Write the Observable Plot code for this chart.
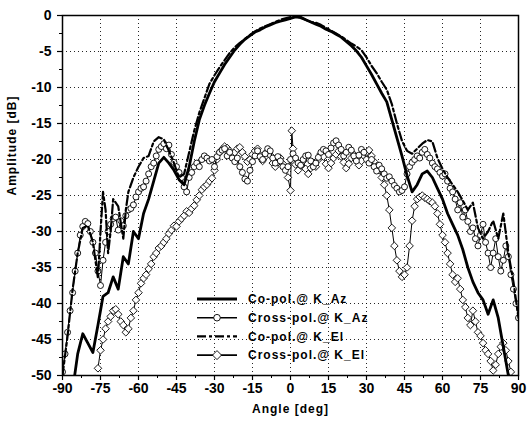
<!DOCTYPE html>
<html><head><meta charset="utf-8">
<script src="https://cdn.jsdelivr.net/npm/d3@7"></script>
<script src="https://cdn.jsdelivr.net/npm/@observablehq/plot@0.6"></script>
<style>
body{margin:0;background:#fff;}
#wrap{position:relative;width:529px;height:428px;}
</style></head><body><div id="wrap"></div>
<script>
// ---- data ----
const copolAzAngle = [-86,-84,-82,-80,-78,-76,-74,-72,-70,-68,-66,-64,-62,-60,-58,-56,-54,-52,-50,-48,-46,-44,-42,-40,-38,-36,-34,-32,-30,-28,-26,-24,-22,-20,-18,-16,-14,-12,-10,-8,-6,-4,-2,0,2,4,6,8,10,12,14,16,18,20,22,24,26,28,30,32,34,36,38,40,42,44,46,48,50,52,54,56,58,60,62,64,66,68,70,72,74,76,78,80,82,84,86,88];
const copolAzDb = [-52,-47,-44.2,-45.5,-46.8,-43,-39,-38.5,-36.3,-38,-33.5,-34.5,-30,-31,-27.5,-25.5,-23,-20.5,-19.7,-20.5,-21.5,-22.8,-23.5,-21,-17.5,-14.5,-12.5,-10.8,-9.2,-8,-6.8,-5.8,-4.8,-4,-3.3,-2.8,-2.3,-2,-1.6,-1.3,-1,-0.8,-0.6,-0.4,-0.2,-0.3,-0.6,-0.9,-1.2,-1.5,-1.9,-2.2,-2.6,-3,-3.6,-4.2,-4.9,-5.8,-7,-8.2,-9.5,-10.8,-12,-14.5,-17,-19.5,-22.2,-24.5,-23.5,-22,-21.6,-22.5,-24,-25.5,-27.5,-29,-30.5,-32.5,-35,-37,-38.5,-39.5,-41.5,-39.5,-42,-46,-50,-53];

const copolElAngle = [-90,-88,-86,-84,-82,-80,-78,-76,-75,-74,-73,-72,-71,-70,-68,-66,-65,-64,-62,-60,-58,-56,-54,-52,-50,-48,-46,-44,-42,-40,-38,-36,-34,-32,-30,-28,-26,-24,-22,-20,-18,-16,-14,-12,-10,-8,-6,-4,-2,0,2,4,6,8,10,12,14,16,18,20,22,24,26,28,30,32,34,36,38,40,42,44,46,48,50,52,54,56,58,60,62,64,66,68,70,72,74,76,78,80,82,84,86,88,90];
const copolElDb = [-50,-44.5,-38,-33,-29.5,-29.2,-31.5,-36.5,-30,-24.5,-27,-33,-30,-25.5,-26.5,-31,-27,-24.5,-22.5,-21,-19.8,-19.5,-17.5,-16.9,-17.2,-18.8,-20.5,-22.5,-22,-19,-16,-13.5,-11.5,-9.5,-8.3,-7.2,-6.2,-5.2,-4.4,-3.8,-3.3,-2.7,-2.2,-1.8,-1.5,-1.2,-0.9,-0.6,-0.4,-0.2,-0.1,-0.2,-0.6,-0.9,-1.0,-1.3,-1.7,-2.1,-2.5,-2.9,-3.4,-3.9,-4.3,-4.8,-5.8,-7,-8,-9.2,-10.3,-12.3,-15,-17.4,-18.8,-19.2,-18.5,-17.8,-17.3,-17.5,-19.8,-21.3,-22.5,-23.5,-24.5,-25.7,-27,-26,-29.5,-31,-30,-28.5,-31,-27.5,-33,-37,-42];

const crossAzAngle = [-90,-89,-88,-87,-86,-85,-84,-83,-82,-81,-80,-79,-78,-77,-76,-75,-74,-73,-72,-71,-70,-69,-68,-67,-66,-65,-64,-63,-62,-61,-60,-59,-58,-57,-56,-55,-54,-53,-52,-51,-50,-49,-48,-47,-46,-45,-44,-43,-42,-41,-40,-39,-38,-37,-36,-35,-34,-33,-32,-31,-30,-29,-28,-27,-26,-25,-24,-23,-22,-21,-20,-19,-18,-17,-16,-15,-14,-13,-12,-11,-10,-9,-8,-7,-6,-5,-4,-3,-2,-1,0,1,2,3,4,5,6,7,8,9,10,11,12,13,14,15,16,17,18,19,20,21,22,23,24,25,26,27,28,29,30,31,32,33,34,35,36,37,38,39,40,41,42,43,44,45,46,47,48,49,50,51,52,53,54,55,56,57,58,59,60,61,62,63,64,65,66,67,68,69,70,71,72,73,74,75,76,77,78,79,80,81,82,83,84,85,86,87,88,89,90];
const crossAzDb = [
-49.5,-47,-44,-41,-38.5,-35.5,-33,-30.5,-29.3,-28.6,
-28.9,-30,-31.5,-33,-35.5,-37.5,-34,-31.5,-30,-29,
-28.2,-28,-29.8,-28.5,-29.2,-27.8,-27,-26.8,-26.3,-25.2,
-24.5,-24,-23.8,-23,-22,-21,-20.5,-19.5,-18.6,-18.2,
-17.8,-18.5,-18,-19.3,-20.4,-21,-21.8,-22.5,-23.8,-24.5,
-22.5,-21.8,-21,-20.5,-21,-20,-19.5,-19.8,-20.2,-20,
-21,-19.6,-19,-18.7,-18.5,-19.5,-19,-19.8,-20.3,-19.8,
-21,-21.8,-22.7,-23,-21.5,-20.3,-19.5,-18.8,-19.6,-20,
-19.2,-18.5,-18.8,-19.8,-20.5,-19.6,-20.2,-21,-21.5,-21,
-20,-19.2,-19.8,-20.5,-20.8,-20,-19.5,-19.4,-20.2,-21,
-20.5,-19.7,-19,-18.6,-18.8,-19.3,-18.4,-17.7,-17.4,-18,
-18.6,-19.5,-19,-18.3,-18.7,-19.5,-20.2,-19.4,-18.6,-19,
-20,-20.5,-20,-21,-21.6,-20.8,-21.3,-22,-22.6,-22.4,
-23,-23.6,-24,-24.5,-24.3,-23.8,-22,-21,-20.4,-20,
-19.5,-19.8,-19,-18.6,-19.3,-19.8,-20.5,-21,-21.3,-21.8,
-22.3,-22,-23,-24,-24.5,-25.5,-27,-26,-28,-27,
-28.6,-30,-29.5,-31,-32,-30.5,-29,-31.5,-33,-35,
-33,-31,-33.5,-35.5,-34,-32,-33.5,-36,-38,-40,-42];

const crossElAngle = [-76,-75,-74,-73,-72,-71,-70,-69,-68,-67,-66,-65,-64,-63,-62,-61,-60,-59,-58,-57,-56,-55,-54,-53,-52,-51,-50,-49,-48,-47,-46,-45,-44,-43,-42,-41,-40,-39,-38,-37,-36,-35,-34,-33,-32,-31,-30,-29,-28,-27,-26,-25,-24,-23,-22,-21,-20,-19,-18,-17,-16,-15,-14,-13,-12,-11,-10,-9,-8,-7,-6,-5,-4,-3,-2,-1,0,0.5,1,2,3,4,5,6,7,8,9,10,11,12,13,14,15,16,17,18,19,20,21,22,23,24,25,26,27,28,29,30,31,32,33,34,35,36,37,38,39,40,41,42,43,44,45,46,47,48,49,50,51,52,53,54,55,56,57,58,59,60,61,62,63,64,65,66,67,68,69,70,71,72,73,74,75,76,77,78,79,80,81,82,83,84,85,86,87];
const crossElDb = [
-49,-46.5,-45,-43.5,-42.5,-41.8,
-41,-40.8,-41.5,-42.5,-43,-44,-43.5,-42,-41,-39.5,
-38.5,-37.2,-36.5,-36,-35.2,-34.5,-33.5,-33,-32.3,-32,
-31.5,-31,-30.3,-29.8,-29.2,-29.3,-28.6,-28.2,-27.8,-27.2,
-27.4,-26.8,-26.4,-25.6,-25,-24.2,-23.8,-23.5,-23,-22.6,
-21.5,-20,-19,-18.6,-18.2,-18.4,-18.8,-19.3,-19,-18.5,
-18.3,-19,-19.6,-20.3,-20,-19.3,-18.8,-18.5,-19.4,-20.2,
-19.6,-18.8,-19.4,-20.5,-21,-20.4,-19.8,-20.6,-21.3,-22.5,
-24.3,-16,
-18.5,-20.7,-21.5,-20.8,-20.2,-21.3,-22,-21.2,-20.5,
-21,-20,-19.2,-19.6,-20.6,-21.2,-20.5,-19.8,-19.3,-18.8,
-19.6,-20.4,-21.2,-20.6,-19.8,-19.3,-20,-20.8,-20.2,-19.5,
-19,-18.7,-19.5,-20.3,-21,-21.5,-22.5,-23.5,-25,-27,
-29.5,-32,-34,-35.5,-36.3,-36,-35,-32,-28.5,-26.5,
-25.5,-25.2,-25,-25.3,-25.5,-25.8,-26,-26.5,-27.5,-29,
-30.5,-31.5,-33,-34.5,-36,-37,-36.5,-38,-39.5,-40.5,
-42,-43,-41,-42.5,-44,-44.5,-45.5,-46.5,-47,-48,
-49.3,-48.5,-47,-46,-45.5,-46.5,-48,-49.5];

const seriesNames = ["Co-pol.@ K_Az","Cross-pol.@ K_Az","Co-pol.@ K_El","Cross-pol.@ K_El"];
const xTicks = [-90,-75,-60,-45,-30,-15,0,15,30,45,60,75,90];
const xMinorTicks = [-82.5,-67.5,-52.5,-37.5,-22.5,-7.5,7.5,22.5,37.5,52.5,67.5,82.5];
const yTicks = [0,-5,-10,-15,-20,-25,-30,-35,-40,-45,-50];
const yMinorTicks = [-2.5,-7.5,-12.5,-17.5,-22.5,-27.5,-32.5,-37.5,-42.5,-47.5];
const xTitle = "Angle [deg]";
const yTitle = "Amplitude [dB]";

// ---- build tables ----
const zip = (a, v) => a.map((d, i) => ({a: d, v: v[i]}));
const copolAz = zip(copolAzAngle, copolAzDb);
const copolEl = zip(copolElAngle, copolElDb);
const crossAz = zip(crossAzAngle, crossAzDb);
const crossEl = zip(crossElAngle, crossElDb);

const FONT = "Liberation Sans, Arial, Helvetica, sans-serif";
const grid = {stroke: "#000", strokeOpacity: 0.85, strokeWidth: 1, strokeDasharray: "1,3"};

const plot = Plot.plot({
  width: 529, height: 428,
  marginLeft: 62, marginRight: 11, marginTop: 15, marginBottom: 53,
  x: {domain: [-90, 90]},
  y: {domain: [-50, 0]},
  style: {fontFamily: FONT, background: "#fff", color: "#000"},
  marks: [
    Plot.gridX(xTicks.slice(1, -1), grid),
    Plot.gridY(yTicks.slice(1, -1), grid),
    Plot.line(crossEl, {x: "a", y: "v", stroke: "#000", strokeWidth: 1, clip: true}),
    Plot.dot(crossEl, {x: "a", y: "v", symbol: "diamond2", r: 3.4, stroke: "#000", strokeWidth: 0.9, fill: "#fff", clip: true}),
    Plot.line(crossAz, {x: "a", y: "v", stroke: "#000", strokeWidth: 1, clip: true}),
    Plot.dot(crossAz, {x: "a", y: "v", symbol: "circle", r: 3, stroke: "#000", strokeWidth: 0.9, fill: "#fff", clip: true}),
    Plot.line(copolEl, {x: "a", y: "v", stroke: "#000", strokeWidth: 2.2, strokeDasharray: "9,3,3,3", clip: true}),
    Plot.line(copolAz, {x: "a", y: "v", stroke: "#000", strokeWidth: 2.8, clip: true}),
    Plot.frame({stroke: "#000", strokeWidth: 1.5}),
    Plot.axisX(xTicks, {tickSize: 5, tickPadding: 3, fontSize: 14, fontWeight: "bold", tickFormat: d => String(d), label: null, strokeWidth: 1.2}),
    Plot.axisX(xMinorTicks, {tickSize: 3, tickFormat: () => "", label: null}),
    Plot.axisY(yTicks, {tickSize: 5, tickPadding: 6, fontSize: 14, fontWeight: "bold", tickFormat: d => String(d), label: null, strokeWidth: 1.2}),
    Plot.axisY(yMinorTicks, {tickSize: 3, tickFormat: () => "", label: null}),
    Plot.text([xTitle], {frameAnchor: "bottom", dy: 37, fontSize: 12, fontWeight: "bold", fill: "#000"}),
    Plot.text([yTitle], {frameAnchor: "left", dx: -50, rotate: -90, fontSize: 12, fontWeight: "bold", fill: "#000"})
  ]
});

// letter spacing for titles
d3.select(plot).selectAll("text").filter(function() {
  return this.textContent === xTitle || this.textContent === yTitle;
}).attr("letter-spacing", "1px");

// ---- legend ----
const lg = d3.select(plot).append("g")
  .attr("font-family", FONT).attr("font-weight", "bold").attr("font-size", 12)
  .attr("letter-spacing", "1px").attr("text-anchor", "start");
seriesNames.forEach((name, i) => {
  const y = 299 + i * 18.7;
  const g = lg.append("g");
  if (i === 0) {
    g.append("line").attr("x1", 197).attr("x2", 237).attr("y1", y).attr("y2", y).attr("stroke", "#000").attr("stroke-width", 2.8);
  } else if (i === 2) {
    g.append("line").attr("x1", 197).attr("x2", 237).attr("y1", y).attr("y2", y).attr("stroke", "#000").attr("stroke-width", 2.2).attr("stroke-dasharray", "9,3,3,3");
  } else {
    g.append("line").attr("x1", 197).attr("x2", 237).attr("y1", y).attr("y2", y).attr("stroke", "#000").attr("stroke-width", 1.6);
    if (i === 1) g.append("circle").attr("cx", 217).attr("cy", y).attr("r", 3.3).attr("fill", "#fff").attr("stroke", "#000").attr("stroke-width", 0.9);
    else g.append("path").attr("d", `M217,${y-4.5}L221.5,${y}L217,${y+4.5}L212.5,${y}Z`).attr("fill", "#fff").attr("stroke", "#000").attr("stroke-width", 0.9);
  }
  g.append("text").attr("x", 248).attr("y", y).attr("dy", "0.35em").attr("fill", "#000").attr("text-anchor", "start").text(name);
});

document.getElementById("wrap").appendChild(plot);
</script>
</body></html>
